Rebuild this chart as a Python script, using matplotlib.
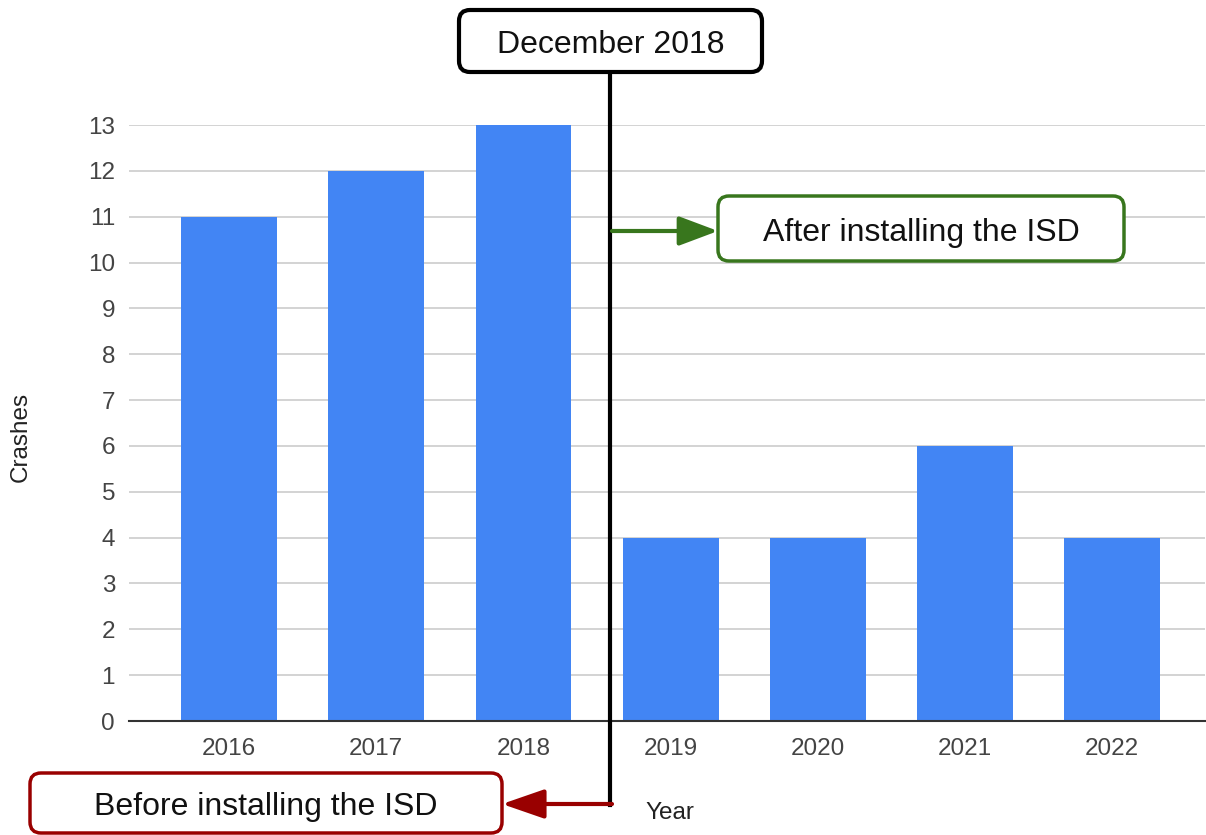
import matplotlib
matplotlib.use("Agg")
import matplotlib.pyplot as plt
from matplotlib.patches import FancyBboxPatch, FancyArrowPatch
from matplotlib.transforms import Affine2D
from matplotlib.lines import Line2D

# data
years = ["2016", "2017", "2018", "2019", "2020", "2021", "2022"]
crashes = [11, 12, 13, 4, 4, 6, 4]
y_ticks = list(range(0, 14))

plt.rcParams["font.family"] = ["Liberation Sans", "DejaVu Sans"]

W, H = 1206, 835
fig = plt.figure(figsize=(W / 100, H / 100), dpi=100)
ax = fig.add_axes([129 / W, 1 - 721 / H, (1205 - 129) / W, (721 - 125) / H])

x = range(len(years))
ax.bar(x, crashes, width=0.65, color="#4285F4", zorder=2)
ax.set_xlim(-0.68, 6.63)
ax.set_ylim(0, 13)
ax.set_yticks(y_ticks)
ax.set_xticks(list(x))
ax.set_xticklabels(years)
ax.tick_params(axis="both", length=0, labelsize=17.5, labelcolor="#444444")
ax.tick_params(axis="y", pad=10)
ax.tick_params(axis="x", pad=12)
ax.grid(axis="y", color="#cccccc", linewidth=1.2, zorder=0)
for s in ["top", "right", "left"]:
    ax.spines[s].set_visible(False)
ax.spines["bottom"].set_color("#333333")
ax.spines["bottom"].set_linewidth(1.5)
ax.spines["bottom"].set_zorder(3)

ax.set_ylabel("Crashes", fontsize=17.5, color="#222222")
ax.yaxis.set_label_coords(-0.09, 0.476)
ax.set_xlabel("Year", fontsize=17.5, color="#222222")
ax.xaxis.set_label_coords(0.503, -0.136)

# pixel transform (y measured from top)
px = Affine2D().scale(1 / W, 1 / H) + fig.transFigure


def P(xp, yp):
    return (xp, H - yp)


def box(x0, y0, x1, y1, text, ec, lw):
    b = FancyBboxPatch(P(x0, y1), x1 - x0, y1 - y0,
                       boxstyle="round,pad=0,rounding_size=11",
                       transform=px, facecolor="white", edgecolor=ec,
                       linewidth=lw, zorder=5)
    fig.patches.append(b)
    cx, cy = P((x0 + x1) / 2, (y0 + y1) / 2 + 4)
    fig.text(cx / W, cy / H, text, ha="center", va="center",
             fontsize=23, color="#111111", zorder=6)


# divider line (December 2018)
fig.lines.append(Line2D([610, 610], [H - 72, H - 805], transform=px,
                        color="black", linewidth=3, zorder=4))

# arrows
fig.patches.append(FancyArrowPatch(P(612, 231), P(718, 231), transform=px,
                                   arrowstyle="-|>,head_length=2.4,head_width=0.9",
                                   mutation_scale=10, color="#38761d",
                                   linewidth=3, shrinkA=0, shrinkB=0, zorder=4))
fig.patches.append(FancyArrowPatch(P(612, 804), P(502, 804), transform=px,
                                   arrowstyle="-|>,head_length=2.6,head_width=0.9",
                                   mutation_scale=10, color="#990000",
                                   linewidth=3, shrinkA=0, shrinkB=0, zorder=4))

box(459, 10, 762, 72, "December 2018", "black", 3)
box(718, 196, 1124, 261, "After installing the ISD", "#38761d", 2.5)
box(30, 773, 502, 833, "Before installing the ISD", "#990000", 2.5)

fig.savefig("out.png", dpi=100)
